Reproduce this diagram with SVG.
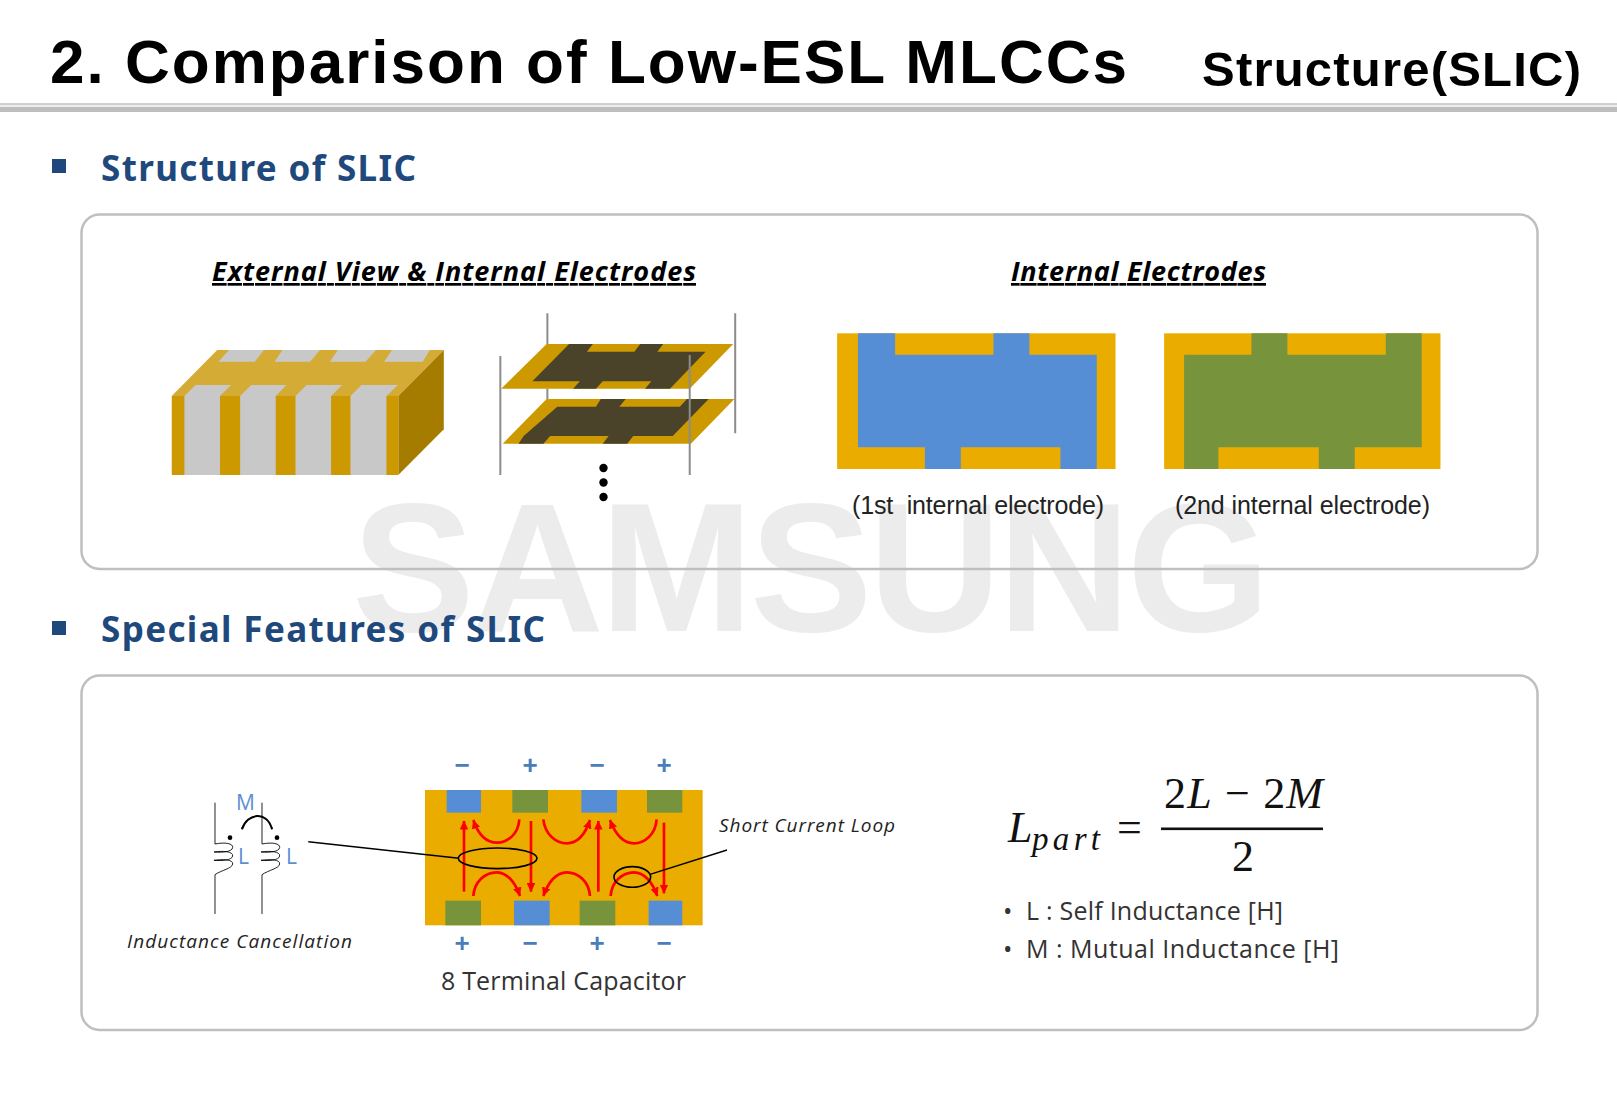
<svg xmlns="http://www.w3.org/2000/svg" width="1617" height="1115" viewBox="0 0 1617 1115">
<style>
.arial{font-family:"Liberation Sans",Arial,sans-serif}
.body{font-family:"Open Sans","Noto Sans",sans-serif}
.head{font-family:"Noto Sans","Open Sans",sans-serif;font-weight:700;font-size:35px;fill:#1f497d}
.ttl{font-family:"Liberation Sans",Arial,sans-serif;font-weight:700;fill:#000}
.panel{fill:none;stroke:#bfbfbf;stroke-width:2.5}
.sub{font-family:"Open Sans","Noto Sans",sans-serif;font-weight:700;font-style:italic;font-size:27px;text-decoration:underline;fill:#000}
.cap{font-family:"Liberation Sans",Arial,sans-serif;font-size:25px;fill:#222}
.sign{font-family:"Liberation Sans",Arial,sans-serif;font-weight:700;font-size:26px;fill:#4a7ebb;text-anchor:middle}
.lbl{font-family:"Open Sans","Noto Sans",sans-serif;font-size:21px;fill:#5b8fd0}
.ital{font-family:"Open Sans","Noto Sans",sans-serif;font-style:italic;font-size:19px;fill:#222}
.txt{font-family:"Open Sans","Noto Sans",sans-serif;font-size:25px;fill:#333}
.math{font-family:"Liberation Serif","Times New Roman",serif;fill:#111}
.or{fill:#ebac00}.bl{fill:#558ed5}.gr{fill:#77933c}
.pl{fill:#cc9900}.dk{fill:#4a432a}
.gl{stroke:#8c8c8c;stroke-width:2;fill:none;vector-effect:non-scaling-stroke}
.red{stroke:#ff0000;stroke-width:8;fill:none;marker-end:url(#rh)}
.blk{fill:none;stroke:#000;vector-effect:non-scaling-stroke}
</style>
<defs>
<marker id="rh" markerUnits="strokeWidth" markerWidth="3.4" markerHeight="3.2" refX="3.2" refY="1.6" orient="auto"><path d="M0 0L3.4 1.6L0 3.2z" fill="#ff0000"/></marker>
<marker id="bh" markerUnits="userSpaceOnUse" markerWidth="7" markerHeight="7" refX="6" refY="3.5" orient="auto"><path d="M0 0L7 3.5L0 7z" fill="#000"/></marker>
<marker id="bhs" markerUnits="userSpaceOnUse" markerWidth="7" markerHeight="7" refX="1" refY="3.5" orient="auto"><path d="M7 0L0 3.5L7 7z" fill="#000"/></marker>
</defs>
<rect width="1617" height="1115" fill="#fff"/>
<text id="watermark" class="arial" x="352" y="631" font-size="184" font-weight="700" fill="#ececec" textLength="918" lengthAdjust="spacing">SAMSUNG</text>

<g id="header">
<text class="ttl" x="50" y="83" font-size="62" textLength="1077" lengthAdjust="spacing">2. Comparison of Low-ESL MLCCs</text>
<text class="ttl" x="1202" y="86" font-size="49" textLength="379" lengthAdjust="spacing">Structure(SLIC)</text>
<rect x="0" y="103" width="1617" height="2" fill="#cfcfcf"/>
<rect x="0" y="105" width="1617" height="2" fill="#ececec"/>
<rect x="0" y="107" width="1617" height="5" fill="#bdbdbd"/>
</g>

<g id="section-structure">
<rect x="52" y="159" width="14" height="14" fill="#1f497d"/>
<text class="head" x="101" y="181" textLength="315" lengthAdjust="spacing">Structure of SLIC</text>
<rect class="panel" x="81.5" y="214.5" width="1456" height="354.5" rx="18"/>
<text class="sub" x="212" y="281" textLength="484" lengthAdjust="spacing">External View &amp; Internal Electrodes</text>
<text class="sub" x="1011" y="281" textLength="255" lengthAdjust="spacing">Internal Electrodes</text>
</g>

<g id="chip" transform="translate(150 300) scale(.3954 .3333)">
<polygon points="170,150 743,150 628,288 55,288" fill="#d4ab34"/>
<polygon points="628,288 743,150 743,388 628,525" fill="#a67c00"/>
<rect x="55" y="288" width="573" height="237" fill="#cc9900"/>
<g fill="#c8c8c8">
<polygon points="87,525 87,288 115,255 205,255 177,288 177,525"/>
<polygon points="228,525 228,288 256,255 345,255 318,288 318,525"/>
<polygon points="368,525 368,288 396,255 486,255 458,288 458,525"/>
<polygon points="507,525 507,288 535,255 627,255 598,288 598,525"/>
<polygon points="200,150 288,150 265,185 173,185"/>
<polygon points="335,150 430,150 405,185 315,185"/>
<polygon points="475,150 572,150 545,185 455,185"/>
<polygon points="612,150 708,150 690,185 592,185"/>
</g>
</g>

<g id="plates" transform="translate(150 300) scale(.3954 .3333)">
<path class="gl" d="M1005 40V132M1005 266V297M1480 40V400"/>
<polygon class="pl" points="1003,132 1475,132 1365,266 888,266"/>
<polygon class="dk" points="1060,132 1120,132 1105,155 1225,155 1240,132 1298,132 1283,155 1405,155 1315,266 1252,266 1268,244 1145,244 1128,266 1070,266 1087,244 967,244"/>
<polygon class="pl" points="1003,297 1478,297 1368,431 892,431"/>
<polygon class="dk" points="1140,297 1203,297 1187,320 1340,320 1358,297 1413,297 1322,408 1222,408 1207,431 1145,431 1160,408 1012,408 995,431 932,431 945,408 1030,320 1128,320"/>
<path class="gl" d="M886 168V525M1365 165V525"/>
</g>
<g id="dots" fill="#000"><circle cx="603.5" cy="468" r="4.2"/><circle cx="603.5" cy="482.5" r="4.2"/><circle cx="603.5" cy="497" r="4.2"/></g>

<g id="electrode-1">
<g transform="translate(820 320) scale(.4082 .3333)">
<rect class="or" x="42" y="40" width="682" height="407"/>
<polygon class="bl" points="93,40 184,40 184,104 425,104 425,40 513,40 513,104 678,104 678,447 589,447 589,382 345,382 345,447 257,447 257,382 93,382"/>
</g>
<text class="cap" x="852" y="514" textLength="252" lengthAdjust="spacing" xml:space="preserve">(1st  internal electrode)</text>
</g>
<g id="electrode-2">
<g transform="translate(820 320) scale(.4082 .3333)">
<rect class="or" x="843" y="40" width="677" height="407"/>
<polygon class="gr" points="1057,40 1145,40 1145,104 1386,104 1386,40 1474,40 1474,382 1310,382 1310,447 1222,447 1222,382 976,382 976,447 892,447 892,104 1057,104"/>
</g>
<text class="cap" x="1175" y="514" textLength="255" lengthAdjust="spacing">(2nd internal electrode)</text>
</g>

<g id="section-features">
<rect x="52" y="621" width="14" height="14" fill="#1f497d"/>
<text class="head" x="101" y="642" textLength="444" lengthAdjust="spacing">Special Features of SLIC</text>
<rect class="panel" x="81.5" y="675.5" width="1456" height="354.5" rx="18"/>
</g>

<g id="inductors">
<g transform="translate(180 780) scale(.3333)">
<g class="blk" stroke-width="2.6">
<path d="M105 68V192C135 186 160 190 158 203C156 216 125 218 102 216C128 212 160 214 158 228C156 241 125 243 102 241C128 237 160 238 158 252C156 266 125 270 105 284V402"/>
<path d="M246 68V192C276 186 301 190 299 203C297 216 266 218 243 216C269 212 301 214 299 228C297 241 266 243 243 241C269 237 301 238 299 252C297 266 266 270 246 284V402"/>
</g>
<circle cx="150" cy="173" r="7"/><circle cx="291" cy="173" r="7"/>
<path class="blk" stroke-width="2" d="M186 148C200 100 262 90 276 148" marker-start="url(#bhs)" marker-end="url(#bh)"/>
</g>
<text class="lbl" x="236" y="810">M</text>
<text class="lbl" x="238" y="864">L</text>
<text class="lbl" x="286" y="864">L</text>
<text class="ital" x="127" y="948" textLength="225" lengthAdjust="spacing">Inductance Cancellation</text>
</g>

<g id="capacitor">
<g transform="translate(410 740) scale(.3333)">
<rect class="or" x="45" y="150" width="833" height="406"/>
<rect class="bl" x="110" y="150" width="103" height="68"/>
<rect class="gr" x="307" y="150" width="107" height="68"/>
<rect class="bl" x="514" y="150" width="107" height="68"/>
<rect class="gr" x="711" y="150" width="106" height="68"/>
<rect class="gr" x="106" y="482" width="107" height="74"/>
<rect class="bl" x="312" y="482" width="107" height="74"/>
<rect class="gr" x="509" y="482" width="107" height="74"/>
<rect class="bl" x="716" y="482" width="101" height="74"/>
</g>
<g>
<text class="sign" x="462" y="774">−</text><text class="sign" x="530" y="774">+</text><text class="sign" x="597" y="774">−</text><text class="sign" x="664" y="774">+</text>
<text class="sign" x="462" y="952">+</text><text class="sign" x="530" y="952">−</text><text class="sign" x="597" y="952">+</text><text class="sign" x="664" y="952">−</text>
</g>
<text class="txt" x="441" y="990" textLength="245" lengthAdjust="spacing">8 Terminal Capacitor</text>
<text class="ital" x="719" y="832" textLength="176" lengthAdjust="spacing">Short Current Loop</text>
</g>

<g id="connectors">
<g transform="translate(410 740) scale(.3333)">
<path class="red" d="M162 455V243"/>
<path class="red" d="M363 243V455"/>
<path class="red" d="M565 455V243"/>
<path class="red" d="M762 248V460"/>
<path class="red" d="M328 238C325 285 290 308 262 308C230 308 205 285 190 240"/>
<path class="red" d="M400 238C405 285 440 310 470 310C500 310 525 285 540 240"/>
<path class="red" d="M740 238C737 285 702 310 672 310C642 310 617 285 600 240"/>
<path class="red" d="M190 468C193 425 225 397 260 397C290 397 315 425 330 468"/>
<path class="red" d="M540 468C537 425 505 397 470 397C440 397 415 425 400 468"/>
<path class="red" d="M602 468C605 425 637 397 672 397C702 397 727 425 742 468"/>
<ellipse class="blk" stroke-width="1.6" cx="263" cy="355" rx="118" ry="31"/>
<ellipse class="blk" stroke-width="1.6" cx="667" cy="411" rx="55" ry="31"/>
</g>
<path class="blk" stroke-width="1.4" d="M308.3 841.7L459 858.3M650 874.3L727 850"/>
</g>

<g id="formula">
<text class="math" x="1008" y="842" font-size="44" font-style="italic">L</text>
<text class="math" x="1032" y="850" font-size="33" font-style="italic" textLength="68" lengthAdjust="spacing">part</text>
<text class="math" x="1117" y="842" font-size="44">=</text>
<text class="math" x="1164" y="808" font-size="44" textLength="159" lengthAdjust="spacing">2<tspan font-style="italic">L</tspan> − 2<tspan font-style="italic">M</tspan></text>
<rect x="1161" y="827.5" width="162" height="2.6" fill="#111"/>
<text class="math" x="1243" y="871" font-size="44" text-anchor="middle">2</text>
</g>
<g id="legend">
<text class="txt" x="1003" y="920">•</text>
<text class="txt" x="1026" y="920" textLength="257" lengthAdjust="spacing">L : Self Inductance [H]</text>
<text class="txt" x="1003" y="958">•</text>
<text class="txt" x="1026" y="958" textLength="313" lengthAdjust="spacing">M : Mutual Inductance [H]</text>
</g>
</svg>
